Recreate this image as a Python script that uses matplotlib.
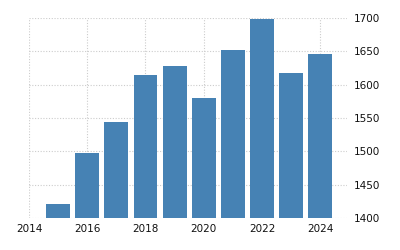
import matplotlib
matplotlib.use("Agg")
import matplotlib.pyplot as plt

years = [2015, 2016, 2017, 2018, 2019, 2020, 2021, 2022, 2023, 2024]
values = [1421, 1497, 1544, 1614, 1628, 1580, 1652, 1698, 1617, 1646]
xticks = [2014, 2016, 2018, 2020, 2022, 2024]
yticks = [1400, 1450, 1500, 1550, 1600, 1650, 1700]

fig = plt.figure(figsize=(4, 2.5), dpi=100)
ax = fig.add_axes([0.0725, 0.128, 0.795, 0.8])
ax.bar(years, [v - 1400 for v in values], bottom=1400, width=0.82, color="#4682B4", zorder=2)

ax.set_xlim(2014, 2024.92)
ax.set_ylim(1400, 1700)
ax.set_xticks(xticks)
ax.set_yticks(yticks)
ax.yaxis.tick_right()
ax.tick_params(length=0, labelsize=7.5, colors="#111111")
ax.tick_params(axis="y", pad=5)
ax.tick_params(axis="x", pad=4)
ax.grid(True, color="#cccccc", linestyle=(0, (1, 1.5)), linewidth=0.8, zorder=0)
for s in ax.spines.values():
    s.set_visible(False)

fig.savefig("out.png", dpi=100)
